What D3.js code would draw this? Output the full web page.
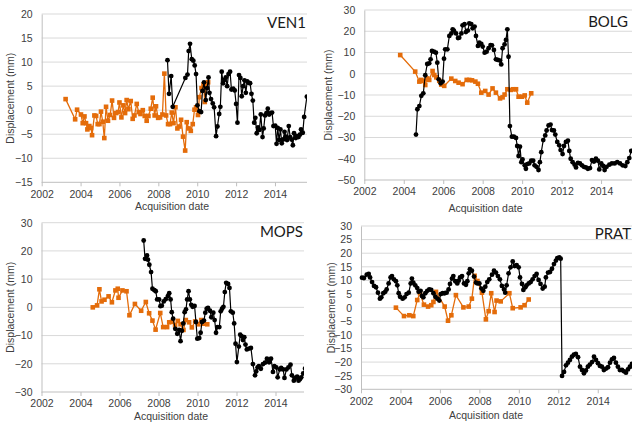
<!DOCTYPE html>
<html>
<head>
<meta charset="utf-8">
<script src="https://cdn.jsdelivr.net/npm/d3@7"></script>
<style>
  body { margin: 0; background: #fff; }
  text { font-family: "Liberation Sans", Arial, sans-serif; }
</style>
</head>
<body>
<svg id="chart" width="632" height="423"></svg>
<script>
// tick labels
var yearTicks = [2002, 2004, 2006, 2008, 2010, 2012, 2014];
var ven1Ticks = [20, 15, 10, 5, 0, -5, -10, -15];
var bolgTicks = [30, 20, 10, 0, -10, -20, -30, -40, -50];
var mopsTicks = [30, 20, 10, 0, -10, -20, -30];
var pratTicks = [30, 25, 20, 15, 10, 5, 0, -5, -10, -15, -20, -25, -30];

// series: [decimal year, displacement mm]
var ven1Orange = [[2003.23,2.3],[2003.72,-1.9],[2003.82,0.1],[2004.02,-0.9],[2004.11,-2.7],[2004.20,-1.3],[2004.28,-2.7],[2004.35,-4.0],[2004.45,-3.3],[2004.54,-3.7],[2004.59,-5.2],[2004.71,-1.1],[2004.80,-1.2],[2004.88,-2.9],[2004.97,-2.9],[2005.05,-0.3],[2005.14,-2.4],[2005.22,-5.8],[2005.31,0.7],[2005.41,-2.2],[2005.52,-1.0],[2005.62,2.0],[2005.72,-1.6],[2005.83,-0.6],[2005.93,-0.4],[2006.00,1.6],[2006.10,-1.5],[2006.20,1.0],[2006.29,-0.6],[2006.37,2.1],[2006.46,0.2],[2006.58,1.9],[2006.68,-1.8],[2006.77,-1.1],[2006.89,1.3],[2006.99,-0.4],[2007.08,-0.8],[2007.20,0.0],[2007.30,-1.2],[2007.40,-2.2],[2007.49,-1.2],[2007.61,0.3],[2007.71,2.6],[2007.81,-1.1],[2007.88,0.8],[2007.99,-1.6],[2008.09,-1.5],[2008.21,-0.9],[2008.31,7.6],[2008.40,-1.1],[2008.50,-2.9],[2008.60,-2.9],[2008.69,-0.5],[2008.78,-2.7],[2008.88,0.6],[2008.98,-3.8],[2009.08,-3.4],[2009.17,-2.0],[2009.27,-5.5],[2009.38,-8.4],[2009.46,-2.5],[2009.56,-3.8],[2009.67,-4.3],[2009.77,-2.9],[2009.86,0.1],[2009.94,0.6],[2010.04,-1.0],[2010.11,2.7],[2010.22,4.6],[2010.32,5.3],[2010.39,1.7],[2010.46,5.0],[2010.56,5.8]];
var ven1Black = [[2008.47,10.4],[2008.55,3.4],[2008.66,7.1],[2008.74,0.7],[2009.39,6.7],[2009.50,7.4],[2009.56,12.3],[2009.63,13.8],[2009.72,10.6],[2009.80,10.3],[2009.87,9.3],[2009.94,7.5],[2010.01,1.0],[2010.11,-0.2],[2010.20,-0.4],[2010.27,4.0],[2010.35,5.8],[2010.44,2.1],[2010.51,4.6],[2010.58,6.8],[2010.63,3.6],[2010.71,2.3],[2010.80,1.4],[2010.87,0.6],[2010.97,-5.4],[2011.04,-3.4],[2011.13,-0.8],[2011.19,0.7],[2011.26,8.0],[2011.33,5.6],[2011.40,6.3],[2011.47,6.8],[2011.54,5.0],[2011.61,7.5],[2011.69,8.0],[2011.76,4.3],[2011.85,4.5],[2011.93,4.1],[2012.00,1.3],[2012.07,-2.6],[2012.15,7.3],[2012.22,6.7],[2012.29,2.9],[2012.36,5.0],[2012.43,6.2],[2012.50,3.6],[2012.57,6.0],[2012.63,5.7],[2012.72,5.6],[2012.79,3.4],[2012.86,2.0],[2012.93,-2.6],[2012.99,-1.6],[2013.06,-4.8],[2013.13,-3.6],[2013.20,-4.1],[2013.27,-0.9],[2013.36,-5.6],[2013.42,-3.8],[2013.49,-1.1],[2013.56,-0.6],[2013.63,0.3],[2013.70,-0.9],[2013.78,-0.6],[2013.85,-0.5],[2013.92,-3.3],[2014.01,-3.2],[2014.08,-7.0],[2014.14,-3.7],[2014.21,-6.2],[2014.28,-4.0],[2014.35,-6.9],[2014.42,-6.1],[2014.49,-4.5],[2014.56,-5.5],[2014.62,-6.2],[2014.71,-3.3],[2014.78,-5.6],[2014.85,-6.1],[2014.92,-7.3],[2014.98,-4.8],[2015.07,-5.8],[2015.14,-5.4],[2015.21,-5.6],[2015.28,-5.1],[2015.34,-4.0],[2015.43,-4.7],[2015.50,-1.4],[2015.64,2.8]];

var bolgOrange = [[2003.82,8.8],[2004.58,1.0],[2004.79,-3.7],[2004.89,-2.9],[2004.99,-3.4],[2005.09,-5.3],[2005.19,-2.2],[2005.29,-2.9],[2005.46,1.3],[2005.55,-0.6],[2005.65,-1.7],[2005.80,-3.3],[2005.90,-5.1],[2006.05,-5.7],[2006.41,-2.3],[2006.61,-3.4],[2006.78,-4.2],[2006.98,-4.9],[2007.19,-2.9],[2007.32,-2.9],[2007.46,-3.1],[2007.63,-3.7],[2007.76,-4.7],[2007.93,-8.9],[2008.13,-8.1],[2008.30,-9.8],[2008.50,-6.9],[2008.67,-8.9],[2008.88,-11.6],[2009.01,-11.1],[2009.11,-9.8],[2009.25,-7.3],[2009.42,-7.6],[2009.55,-7.3],[2009.69,-7.3],[2009.82,-10.8],[2009.99,-10.8],[2010.13,-10.2],[2010.26,-13.6],[2010.46,-9.2]];
var bolgBlack = [[2004.62,-28.6],[2004.69,-16.7],[2004.79,-15.2],[2004.89,-10.4],[2004.99,-9.2],[2005.09,-0.7],[2005.19,4.6],[2005.29,4.9],[2005.36,6.8],[2005.43,10.7],[2005.53,10.4],[2005.63,9.9],[2005.70,5.2],[2005.77,-2.6],[2005.87,-4.5],[2005.97,-3.7],[2006.04,7.1],[2006.10,11.5],[2006.21,11.5],[2006.31,17.8],[2006.41,19.0],[2006.48,20.9],[2006.54,20.3],[2006.65,19.0],[2006.75,16.8],[2006.81,17.0],[2006.92,19.0],[2006.98,22.8],[2007.08,23.3],[2007.15,19.6],[2007.25,20.3],[2007.32,23.7],[2007.42,23.4],[2007.49,21.4],[2007.59,22.2],[2007.66,17.8],[2007.76,13.1],[2007.83,14.6],[2007.93,14.0],[2008.00,12.8],[2008.10,9.9],[2008.20,10.4],[2008.30,12.0],[2008.40,13.5],[2008.47,13.4],[2008.57,11.2],[2008.67,6.8],[2008.77,6.5],[2008.88,6.2],[2008.94,4.4],[2009.01,12.0],[2009.11,13.8],[2009.18,15.9],[2009.25,20.9],[2009.31,8.0],[2009.38,-24.6],[2009.48,-29.6],[2009.58,-29.6],[2009.69,-30.2],[2009.75,-34.0],[2009.82,-38.7],[2009.89,-34.3],[2009.96,-41.6],[2010.02,-40.3],[2010.13,-43.1],[2010.19,-44.7],[2010.26,-42.5],[2010.36,-42.2],[2010.46,-40.9],[2010.56,-40.9],[2010.63,-43.1],[2010.73,-43.8],[2010.83,-45.3],[2010.90,-41.6],[2010.97,-36.9],[2011.07,-31.2],[2011.17,-29.0],[2011.24,-26.7],[2011.34,-24.3],[2011.44,-23.9],[2011.51,-26.5],[2011.61,-26.7],[2011.68,-28.6],[2011.78,-32.1],[2011.88,-33.7],[2011.95,-35.9],[2012.05,-37.8],[2012.12,-34.0],[2012.22,-32.1],[2012.32,-31.5],[2012.39,-36.3],[2012.46,-40.0],[2012.56,-41.6],[2012.66,-42.8],[2012.73,-44.1],[2012.83,-41.9],[2012.93,-42.2],[2013.03,-43.1],[2013.13,-43.8],[2013.23,-44.1],[2013.33,-44.7],[2013.44,-44.4],[2013.54,-40.6],[2013.64,-41.3],[2013.74,-40.0],[2013.84,-40.9],[2013.91,-45.0],[2014.01,-42.2],[2014.11,-43.4],[2014.18,-45.3],[2014.28,-43.8],[2014.42,-42.8],[2014.55,-42.2],[2014.69,-42.2],[2014.82,-41.6],[2014.96,-42.2],[2015.09,-43.1],[2015.23,-43.4],[2015.33,-41.6],[2015.43,-39.7],[2015.53,-36.3]];

var mopsOrange = [[2004.63,0.0],[2004.85,0.7],[2004.97,6.4],[2005.08,2.1],[2005.23,2.7],[2005.44,3.9],[2005.61,1.8],[2005.79,6.0],[2005.91,6.6],[2005.95,3.4],[2006.15,6.0],[2006.36,5.7],[2006.51,-2.8],[2006.79,1.2],[2007.11,-1.2],[2007.35,1.9],[2007.52,-2.1],[2007.69,-4.7],[2007.85,-7.9],[2008.09,-2.0],[2008.24,-7.0],[2008.44,-7.0],[2008.55,-5.3],[2008.70,-5.1],[2008.85,-6.3],[2008.99,-4.8],[2009.13,-6.0],[2009.28,-8.0],[2009.40,-4.5],[2009.57,-5.3],[2009.71,-7.1],[2009.88,-5.0],[2010.05,-6.0],[2010.19,-4.5],[2010.32,-5.8],[2010.50,-6.0]];
var mopsBlack = [[2007.24,23.7],[2007.31,17.2],[2007.41,18.4],[2007.46,16.9],[2007.53,15.1],[2007.62,12.5],[2007.69,6.6],[2007.79,6.1],[2007.86,5.7],[2007.93,2.8],[2008.03,2.8],[2008.10,0.4],[2008.17,0.6],[2008.27,2.1],[2008.37,2.9],[2008.48,4.0],[2008.55,5.0],[2008.62,2.8],[2008.68,-1.7],[2008.75,-4.0],[2008.86,-7.6],[2008.96,-9.4],[2009.06,-8.0],[2009.13,-12.0],[2009.20,-8.3],[2009.27,-5.7],[2009.34,-1.7],[2009.41,-0.7],[2009.47,2.8],[2009.54,5.7],[2009.61,2.8],[2009.68,0.9],[2009.75,0.2],[2009.85,0.5],[2009.92,-5.2],[2009.99,-11.1],[2010.09,-10.9],[2010.16,-9.0],[2010.23,-5.2],[2010.33,-4.7],[2010.40,-1.9],[2010.47,-0.5],[2010.54,-0.2],[2010.64,-1.2],[2010.71,-3.5],[2010.81,-1.9],[2010.88,-4.5],[2010.95,-9.0],[2011.02,-7.0],[2011.12,-7.0],[2011.19,-1.4],[2011.26,-0.5],[2011.33,0.2],[2011.40,5.4],[2011.47,8.7],[2011.57,8.3],[2011.64,6.9],[2011.71,-1.4],[2011.81,-1.9],[2011.88,-5.7],[2011.95,-12.9],[2012.02,-19.4],[2012.12,-13.9],[2012.19,-9.7],[2012.26,-10.2],[2012.33,-11.6],[2012.40,-10.6],[2012.46,-13.2],[2012.53,-14.9],[2012.64,-14.6],[2012.74,-14.4],[2012.84,-20.1],[2012.95,-24.1],[2013.01,-22.7],[2013.08,-21.3],[2013.15,-20.8],[2013.25,-21.8],[2013.36,-20.1],[2013.46,-19.6],[2013.56,-18.2],[2013.67,-19.5],[2013.77,-18.2],[2013.87,-22.9],[2013.94,-20.8],[2014.04,-21.3],[2014.11,-24.8],[2014.22,-22.0],[2014.29,-21.5],[2014.39,-22.0],[2014.46,-25.0],[2014.56,-22.0],[2014.66,-21.3],[2014.77,-20.3],[2014.84,-24.1],[2014.94,-26.0],[2015.01,-25.0],[2015.11,-24.6],[2015.18,-26.0],[2015.25,-25.5],[2015.32,-24.8],[2015.42,-23.4],[2015.52,-21.7],[2015.63,-17.0]];

var pratOrange = [[2003.77,0.0],[2004.18,-3.1],[2004.45,-2.8],[2004.65,-3.1],[2004.85,2.8],[2004.99,5.3],[2005.19,1.1],[2005.40,0.4],[2005.56,0.9],[2005.67,2.1],[2005.80,5.8],[2006.24,0.4],[2006.41,-4.8],[2006.58,-2.8],[2006.81,4.6],[2007.19,0.1],[2007.46,0.4],[2007.62,3.3],[2007.76,11.7],[2007.90,9.8],[2008.13,5.5],[2008.33,-4.3],[2008.47,-1.3],[2008.60,5.3],[2008.77,-1.6],[2008.87,2.6],[2009.08,2.3],[2009.52,5.3],[2009.69,-0.2],[2010.09,0.1],[2010.29,0.9],[2010.50,3.0]];
var pratBlack = [[2002.05,11.0],[2002.15,10.9],[2002.29,12.1],[2002.39,12.4],[2002.46,11.1],[2002.56,9.4],[2002.66,8.0],[2002.76,7.5],[2002.86,5.5],[2002.96,3.3],[2003.03,3.8],[2003.13,5.3],[2003.23,5.8],[2003.30,6.7],[2003.40,8.9],[2003.50,11.1],[2003.57,11.6],[2003.67,10.4],[2003.77,9.7],[2003.84,8.2],[2003.91,5.3],[2003.98,4.0],[2004.11,3.3],[2004.21,3.8],[2004.31,5.0],[2004.42,5.5],[2004.52,8.9],[2004.58,10.7],[2004.65,9.2],[2004.75,8.2],[2004.85,7.2],[2004.92,5.8],[2005.02,6.2],[2005.09,4.3],[2005.16,3.8],[2005.26,5.3],[2005.36,6.2],[2005.46,6.7],[2005.56,6.5],[2005.67,5.3],[2005.77,4.0],[2005.87,3.3],[2005.97,2.6],[2006.04,5.0],[2006.14,5.3],[2006.24,5.3],[2006.34,5.5],[2006.44,6.7],[2006.51,8.7],[2006.61,10.7],[2006.68,11.6],[2006.78,9.7],[2006.88,8.9],[2006.95,9.9],[2007.02,11.1],[2007.12,11.6],[2007.22,8.9],[2007.32,8.4],[2007.39,9.7],[2007.46,12.6],[2007.52,14.1],[2007.62,13.6],[2007.73,11.4],[2007.83,9.2],[2007.90,8.9],[2008.00,8.9],[2008.10,7.0],[2008.20,6.2],[2008.30,7.7],[2008.40,9.4],[2008.50,10.4],[2008.64,12.1],[2008.74,13.6],[2008.84,12.9],[2008.94,11.6],[2009.04,10.4],[2009.14,8.0],[2009.25,6.7],[2009.31,5.5],[2009.38,8.2],[2009.48,12.6],[2009.58,14.8],[2009.69,17.0],[2009.79,15.3],[2009.89,15.6],[2009.99,14.8],[2010.06,11.1],[2010.16,8.7],[2010.23,6.5],[2010.33,7.5],[2010.39,8.2],[2010.50,8.9],[2010.60,9.4],[2010.70,10.4],[2010.80,11.6],[2010.90,12.4],[2011.00,10.2],[2011.10,8.7],[2011.21,7.0],[2011.31,7.7],[2011.37,11.1],[2011.48,12.9],[2011.58,13.1],[2011.68,14.3],[2011.78,16.0],[2011.88,17.3],[2011.95,18.2],[2012.05,18.5],[2012.12,18.0],[2012.19,-25.1],[2012.29,-23.6],[2012.39,-21.2],[2012.49,-20.2],[2012.59,-19.2],[2012.69,-18.0],[2012.79,-17.3],[2012.89,-17.0],[2013.00,-18.2],[2013.10,-21.7],[2013.20,-22.9],[2013.30,-24.1],[2013.40,-23.1],[2013.50,-21.7],[2013.60,-20.9],[2013.71,-20.0],[2013.81,-18.0],[2013.91,-19.2],[2014.01,-20.4],[2014.11,-21.4],[2014.21,-21.7],[2014.31,-22.9],[2014.42,-22.4],[2014.52,-21.9],[2014.62,-20.2],[2014.72,-19.0],[2014.82,-18.5],[2014.92,-20.2],[2015.02,-21.7],[2015.12,-22.9],[2015.23,-22.9],[2015.33,-23.4],[2015.43,-23.9],[2015.53,-22.7],[2015.63,-21.7],[2015.73,-20.7]];

var orange = "#e46c0a";
var svg = d3.select("#chart");

// each panel is cropped on the right, like the original figure
var panels = [
  {name: "VEN1", orange: ven1Orange, black: ven1Black, ticks: ven1Ticks,
   left: 41.7, top: 14, bottom: 182.3, pxYear: 19.44, right: 307,
   yLabelX: 10, xTitleX: 172, xTitleY: 206, nameX: 306, nameY: 23},
  {name: "BOLG", orange: bolgOrange, black: bolgBlack, ticks: bolgTicks,
   left: 364.3, top: 10, bottom: 180, pxYear: 19.73, right: 632,
   yLabelX: 328, xTitleX: 485.5, xTitleY: 208.5, nameX: 628, nameY: 22},
  {name: "MOPS", orange: mopsOrange, black: mopsBlack, ticks: mopsTicks,
   left: 41.5, top: 222.7, bottom: 392, pxYear: 19.5, right: 304,
   yLabelX: 10, xTitleX: 171, xTitleY: 416, nameX: 303, nameY: 232},
  {name: "PRAT", orange: pratOrange, black: pratBlack, ticks: pratTicks,
   left: 361, top: 226, bottom: 389.3, pxYear: 19.73, right: 632,
   yLabelX: 331, xTitleX: 486, xTitleY: 415, nameX: 631, nameY: 234}
];

panels.forEach(function(p, i) {
  var x = d3.scaleLinear().domain([2002, 2016]).range([p.left, p.left + 14 * p.pxYear]);
  var y = d3.scaleLinear().domain([d3.min(p.ticks), d3.max(p.ticks)]).range([p.bottom, p.top]);

  var clipId = "clip" + i;
  svg.append("clipPath").attr("id", clipId)
    .append("rect")
    .attr("x", p.left - 4).attr("y", 0)
    .attr("width", p.right - p.left + 4).attr("height", 423);

  var g = svg.append("g");

  // gridlines
  g.selectAll(".grid")
    .data(p.ticks)
    .enter()
    .append("line")
    .attr("x1", p.left).attr("x2", p.right)
    .attr("y1", d => y(d)).attr("y2", d => y(d))
    .attr("stroke", (d, k) => k == p.ticks.length - 1 ? "#bfbfbf" : "#d9d9d9")
    .attr("stroke-width", 1);

  // axes
  var xAxis = g.append("g")
    .attr("transform", `translate(0, ${p.bottom})`)
    .call(d3.axisBottom(x).tickValues(yearTicks).tickFormat(d3.format("d"))
      .tickSize(4).tickPadding(4).tickSizeOuter(0));
  xAxis.select(".domain").remove();

  var yAxis = g.append("g")
    .attr("transform", `translate(${p.left}, 0)`)
    .call(d3.axisLeft(y).tickValues(p.ticks).tickSize(0).tickPadding(9).tickSizeOuter(0));

  [xAxis, yAxis].forEach(function(a) {
    a.selectAll("line").attr("stroke", "#bfbfbf");
    a.select(".domain").attr("stroke", "#bfbfbf");
    a.selectAll("text").attr("fill", "#404040")
      .style("font-size", "10.5px")
      .style("font-family", '"Liberation Sans", Arial, sans-serif');
  });

  // axis titles
  g.append("text")
    .attr("x", p.xTitleX).attr("y", p.xTitleY)
    .attr("dy", "0.35em")
    .attr("text-anchor", "middle")
    .attr("fill", "#404040")
    .style("font-size", "10.5px")
    .text("Acquisition date");

  g.append("text")
    .attr("transform", `translate(${p.yLabelX}, ${(p.top + p.bottom) / 2}) rotate(-90)`)
    .attr("dy", "0.35em")
    .attr("text-anchor", "middle")
    .attr("fill", "#404040")
    .style("font-size", "10.5px")
    .text("Displacement (mm)");

  // station name
  g.append("text")
    .attr("x", p.nameX).attr("y", p.nameY)
    .attr("dy", "0.35em")
    .attr("text-anchor", "end")
    .attr("fill", "#1a1a1a")
    .style("font-family", "Lato, 'Open Sans', sans-serif")
    .style("font-size", "15px")
    .text(p.name);

  var line = d3.line().x(d => x(d[0])).y(d => y(d[1]));
  var plot = g.append("g").attr("clip-path", `url(#${clipId})`);

  // orange series (squares)
  plot.append("path")
    .datum(p.orange)
    .attr("d", line)
    .attr("fill", "none")
    .attr("stroke", orange)
    .attr("stroke-width", 1.3);

  plot.selectAll(".sq")
    .data(p.orange)
    .enter()
    .append("rect")
    .attr("x", d => x(d[0]) - 2.3)
    .attr("y", d => y(d[1]) - 2.3)
    .attr("width", 4.6)
    .attr("height", 4.6)
    .attr("fill", orange);

  // black series (circles)
  plot.append("path")
    .datum(p.black)
    .attr("d", line)
    .attr("fill", "none")
    .attr("stroke", "#000")
    .attr("stroke-width", 1.2);

  plot.selectAll(".dot")
    .data(p.black)
    .enter()
    .append("circle")
    .attr("cx", d => x(d[0]))
    .attr("cy", d => y(d[1]))
    .attr("r", 2.4)
    .attr("fill", "#000");
});
</script>
</body>
</html>
